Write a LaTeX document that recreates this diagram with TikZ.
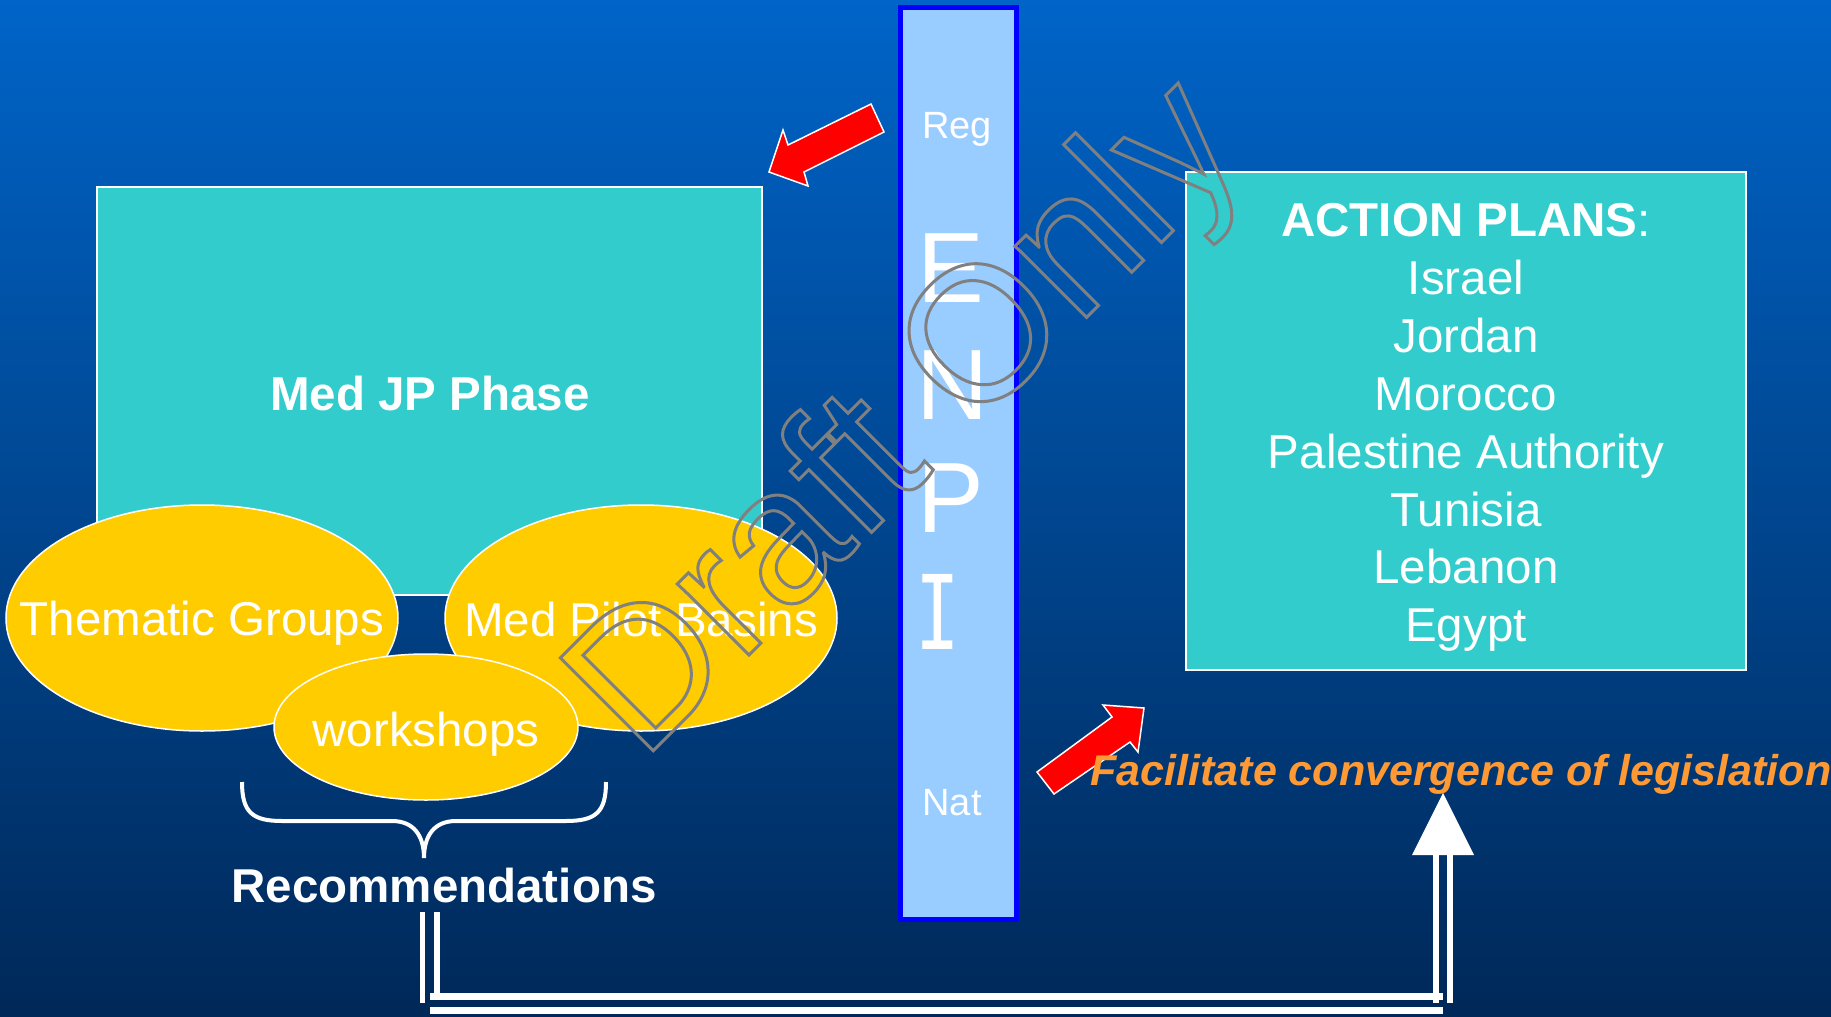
\documentclass[tikz,border=0pt]{standalone}
\usepackage{fontspec}
\setmainfont{Liberation Sans}
\newfontfamily\monof{DejaVu Sans Mono}
\usetikzlibrary{shapes.geometric}
\definecolor{bgtop}{RGB}{0,100,200}
\definecolor{bgbot}{RGB}{0,40,88}
\definecolor{teal}{RGB}{51,204,204}
\definecolor{ell}{RGB}{255,204,0}
\definecolor{barfill}{RGB}{153,204,255}
\definecolor{barline}{RGB}{0,0,255}
\definecolor{facor}{RGB}{255,153,51}
\definecolor{wmgray}{RGB}{128,128,128}
\tikzset{
  tealbox/.style={draw=white, line width=1.5pt, fill=teal, inner sep=0pt},
  ellnode/.style={ellipse, draw=white, line width=1.5pt, fill=ell, inner sep=0pt},
  lab/.style={inner sep=0pt, text depth=0pt, text=white},
  redarrow/.style={fill=red, draw=white, line width=1.5pt, line join=miter},
  dbl/.style={fill=white}
}
\begin{document}
\begin{tikzpicture}[x=1pt,y=-1pt]
\useasboundingbox (0,0) rectangle (1831,1017);
\shade[top color=bgtop,bottom color=bgbot] (0,0) rectangle (1831,1017);

% left box
\node[tealbox, minimum width=665pt, minimum height=408pt] (med) at (429.5,391) {};
\node[lab, text height=34pt, font=\fontsize{47.5}{50}\selectfont\bfseries] (medtxt) at (430,393) {Med JP Phase};

% ellipses
\node[ellnode, minimum width=392pt, minimum height=226pt] (tg) at (202,618) {};
\node[ellnode, minimum width=392pt, minimum height=226pt] (mpb) at (641,618) {};
\node[ellnode, minimum width=304pt, minimum height=146pt] (ws) at (426,727) {};
\node[lab, text height=34pt, font=\fontsize{47.5}{50}\selectfont] (tgtxt) at (202,618) {Thematic Groups};
\node[lab, text height=34pt, font=\fontsize{47.5}{50}\selectfont] (mpbtxt) at (641,619) {Med Pilot Basins};
\node[lab, text height=34pt, font=\fontsize{47.5}{50}\selectfont] (wstxt) at (426,729) {workshops};

% brace
\draw[white, line width=4pt] (242,782) .. controls (242,812) and (252,821) .. (282,821) -- (392,821)
  .. controls (414,821) and (424,836) .. (424,858)
  .. controls (424,836) and (434,821) .. (456,821) -- (566,821)
  .. controls (596,821) and (606,812) .. (606,782);
\node[lab, text height=34pt, font=\fontsize{47.5}{50}\selectfont\bfseries] (rec) at (444,885) {Recommendations};

% ENPI bar
\node[draw=barline, fill=barfill, line width=5pt, minimum width=116pt, minimum height=912pt, inner sep=0pt] (enpi) at (958.5,463.5) {};
\node[lab, text height=27.2pt, font=\fontsize{38}{40}\selectfont] (reg) at (957,125) {Reg};
\node[lab, text height=27.2pt, font=\fontsize{38}{40}\selectfont] (nat) at (952,802) {Nat};
\node[lab, text height=73.7pt, font=\fontsize{100}{100}\selectfont] (lE) at (951,266) {E};
\node[lab, text height=73.7pt, font=\fontsize{100}{100}\selectfont] (lN) at (953,383) {N};
\node[lab, text height=73.7pt, font=\fontsize{100}{100}\selectfont] (lP) at (951,496) {P};
\node[lab, text height=73.7pt, font=\fontsize{103}{103}\selectfont\monof, xscale=0.72] (lI) at (938,613) {I};

% right box
\node[tealbox, minimum width=560pt, minimum height=498pt] (plans) at (1466,421) {};
\node[lab, text height=34pt, font=\fontsize{47.5}{50}\selectfont] (p0) at (1466,219.5) {\textbf{ACTION PLANS}:};
\foreach \t [count=\i] in {Israel,Jordan,Morocco,Palestine Authority,Tunisia,Lebanon,Egypt}
  \node[lab, text height=34pt, font=\fontsize{47.5}{50}\selectfont] (p\i) at (1466,219.5+57.9*\i) {\t};

% red arrows
\draw[redarrow] (769,172) -- (783,130) -- (788,145) -- (871,104) -- (884,132) -- (804,172) -- (808,186) -- cycle;
\draw[redarrow] (1144,708) -- (1103,705) -- (1112,717) -- (1037,772) -- (1054,794) -- (1130,742) -- (1138,752) -- cycle;

% facilitate
\node[lab, text=facor, text height=30.8pt, font=\fontsize{43}{45}\selectfont\bfseries\itshape] (fac) at (1461,770) {Facilitate convergence of legislation};

% double connector from Recommendations to the goal
\coordinate (cstart) at (429,912);
\coordinate (ccorner1) at (429,1003);
\coordinate (ccorner2) at (1443,1003);
\coordinate (ctip) at (1443,793);
\fill[dbl] (419.5,912) rectangle (424.5,1003);
\fill[dbl] (434,912) rectangle (440,1000);
\fill[dbl] (430,993) rectangle (1443,1000);
\fill[dbl] (430,1007) rectangle (1443,1014);
\fill[dbl] (1433,855) rectangle (1439,1003);
\fill[dbl] (1447,855) rectangle (1453,1003);
\fill[dbl] (1412,855) -- (ctip) -- (1474,855) -- cycle;

% watermark (outlined text)
\node[inner sep=0pt, rotate=45, anchor=base west, font=\fontsize{191}{191}\selectfont] (wm) at (642,762)
  {\color{wmgray}\special{pdf:literal direct 1 Tr 3 w}Draft Only\special{pdf:literal direct 0 Tr}};
\end{tikzpicture}
\end{document}
